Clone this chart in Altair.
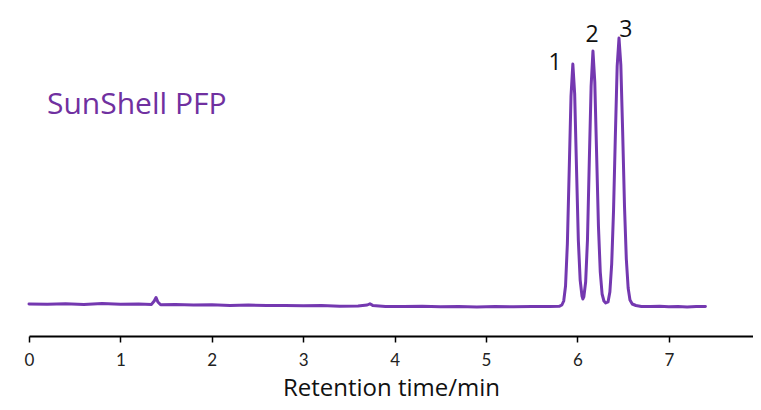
import altair as alt
import pandas as pd

# Chromatogram trace (time in min, signal in arbitrary units)
times = [
    0.00, 0.20, 0.40, 0.60, 0.80, 1.00, 1.20, 1.34, 1.37, 1.39, 1.41, 1.44,
    1.60, 1.80, 2.00, 2.20, 2.40, 2.60, 2.80, 3.00, 3.20, 3.40, 3.60, 3.70,
    3.73, 3.76, 3.90, 4.10, 4.30, 4.50, 4.70, 4.90, 5.10, 5.30, 5.50, 5.70,
    5.80, 5.83, 5.85, 5.87, 5.89, 5.91, 5.93, 5.95, 5.97, 5.99, 6.01, 6.03,
    6.05, 6.06, 6.07, 6.09, 6.11, 6.13, 6.15, 6.17, 6.19, 6.21, 6.23, 6.25,
    6.27, 6.29, 6.31, 6.335, 6.355, 6.375, 6.395, 6.415, 6.435, 6.455, 6.475,
    6.495, 6.515, 6.535, 6.555, 6.575, 6.60, 6.64, 6.70, 6.80, 6.90, 7.00,
    7.10, 7.20, 7.30, 7.40,
]
signal = [
    2.0, 1.8, 2.2, 1.6, 2.4, 1.8, 2.0, 1.6, 5.0, 8.5, 4.0, 1.2,
    1.4, 1.0, 1.2, 0.6, 0.9, 0.4, 0.6, 0.2, 0.5, -0.2, 0.1, 1.0,
    2.2, 0.6, -0.4, -0.6, -0.2, -0.8, -0.4, -0.9, -0.5, -0.8, -0.4, -0.6,
    -0.3, 1.0, 5.0, 20.0, 62.0, 135.0, 210.0, 242.0, 212.0, 138.0, 66.0, 26.0,
    10.0, 7.0, 9.0, 24.0, 66.0, 145.0, 220.0, 255.0, 224.0, 152.0, 80.0, 34.0,
    12.0, 5.0, 3.0, 4.0, 14.0, 42.0, 95.0, 170.0, 240.0, 268.0, 241.0,
    174.0, 100.0, 47.0, 18.0, 6.0, 2.0, 0.5, -0.5, -0.6, -0.3, -0.8,
    -0.5, -0.9, -0.6, -0.4,
]

# Peak numbers and where their labels sit (data coordinates)
peak_names = ["1", "2", "3"]
peak_label_t = [5.755, 6.16, 6.53]
peak_label_s = [243, 271, 276]

x_ticks = [0, 1, 2, 3, 4, 5, 6, 7, 8]

trace = pd.DataFrame({"t": times, "s": signal})
labels = pd.DataFrame({"t": peak_label_t, "s": peak_label_s, "name": peak_names})

# the visible window of the reference ends just short of 8 min
x_scale = alt.Scale(domain=[0, 7.921], nice=False, zero=False)
y_scale = alt.Scale(domain=[-30, 288], nice=False, zero=False)

line = alt.Chart(trace).mark_line(
    color="#7438B0", strokeWidth=3, strokeJoin="round", strokeCap="round"
).encode(
    x=alt.X(
        "t:Q",
        scale=x_scale,
        title="Retention time/min",
        axis=alt.Axis(
            values=x_ticks,
            format="d",
            grid=False,
            domainColor="#000000",
            domainWidth=2,
            tickColor="#000000",
            tickWidth=1.5,
            tickSize=6,
            labelFont="Lato",
            labelFontSize=17,
            labelColor="#222222",
            labelBaseline="alphabetic",
            labelPadding=23,
            labelFlush=False,
            labelOverlap=False,
            titleFont="Open Sans",
            titleFontSize=24,
            titleFontWeight="normal",
            titleColor="#111111",
            titleBaseline="alphabetic",
            titleY=59,
        ),
    ),
    y=alt.Y("s:Q", scale=y_scale, axis=None),
)

peak_text = alt.Chart(labels).mark_text(
    font="Open Sans", fontSize=23, color="#111111", align="center", baseline="middle"
).encode(
    x=alt.X("t:Q", scale=x_scale),
    y=alt.Y("s:Q", scale=y_scale),
    text="name:N",
)

column_name = alt.Chart(pd.DataFrame({"label": ["SunShell PFP"]})).mark_text(
    font="Open Sans", fontSize=30, color="#7030A0", align="left", baseline="alphabetic"
).encode(
    x=alt.value(18),
    y=alt.value(96),
    text="label:N",
)

chart = alt.layer(line, peak_text, column_name).properties(
    width=724,
    height=318,
    autosize=alt.AutoSizeParams(type="none"),
    padding={"left": 21, "top": 10, "right": 0, "bottom": 66},
).configure_view(stroke=None)

chart.save("out.html", embed_options={"renderer": "svg", "actions": False})
